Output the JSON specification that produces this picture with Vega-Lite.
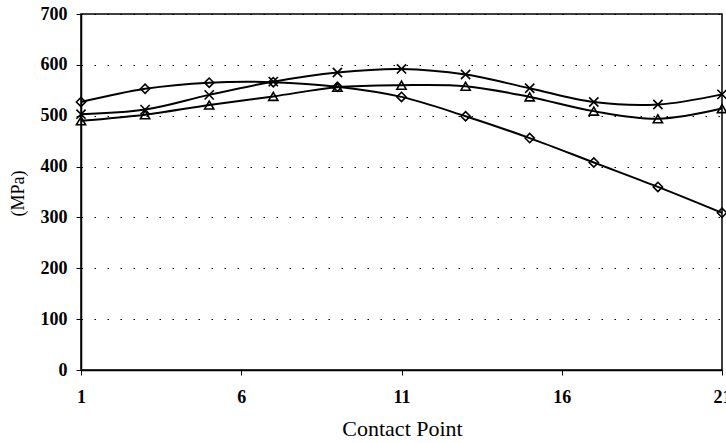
{
  "$schema": "https://vega.github.io/schema/vega-lite/v6.json",
  "autosize": {"type": "none"},
  "width": 641,
  "height": 356,
  "padding": {"left": 81, "top": 14, "right": 4, "bottom": 73},
  "background": "white",
  "config": {
    "view": {"stroke": "black", "strokeWidth": 1.5},
    "font": "Liberation Serif"
  },
  "data": {
    "values": [
      {"point": 1, "stress": 527, "series": "Diamond"},
      {"point": 3, "stress": 553, "series": "Diamond"},
      {"point": 5, "stress": 565, "series": "Diamond"},
      {"point": 7, "stress": 566, "series": "Diamond"},
      {"point": 9, "stress": 557, "series": "Diamond"},
      {"point": 11, "stress": 537, "series": "Diamond"},
      {"point": 13, "stress": 499, "series": "Diamond"},
      {"point": 15, "stress": 456, "series": "Diamond"},
      {"point": 17, "stress": 408, "series": "Diamond"},
      {"point": 19, "stress": 360, "series": "Diamond"},
      {"point": 21, "stress": 309, "series": "Diamond"},
      {"point": 1, "stress": 503, "series": "Cross"},
      {"point": 3, "stress": 512, "series": "Cross"},
      {"point": 5, "stress": 541, "series": "Cross"},
      {"point": 7, "stress": 567, "series": "Cross"},
      {"point": 9, "stress": 585, "series": "Cross"},
      {"point": 11, "stress": 592, "series": "Cross"},
      {"point": 13, "stress": 581, "series": "Cross"},
      {"point": 15, "stress": 554, "series": "Cross"},
      {"point": 17, "stress": 527, "series": "Cross"},
      {"point": 19, "stress": 522, "series": "Cross"},
      {"point": 21, "stress": 542, "series": "Cross"},
      {"point": 1, "stress": 490, "series": "Triangle"},
      {"point": 3, "stress": 502, "series": "Triangle"},
      {"point": 5, "stress": 521, "series": "Triangle"},
      {"point": 7, "stress": 538, "series": "Triangle"},
      {"point": 9, "stress": 556, "series": "Triangle"},
      {"point": 11, "stress": 560, "series": "Triangle"},
      {"point": 13, "stress": 558, "series": "Triangle"},
      {"point": 15, "stress": 537, "series": "Triangle"},
      {"point": 17, "stress": 509, "series": "Triangle"},
      {"point": 19, "stress": 494, "series": "Triangle"},
      {"point": 21, "stress": 514, "series": "Triangle"}
    ]
  },
  "encoding": {
    "x": {
      "field": "point", "type": "quantitative",
      "scale": {"domain": [1, 21], "nice": false, "zero": false},
      "axis": {
        "title": "Contact Point",
        "values": [1, 6, 11, 16, 21],
        "grid": false,
        "domainColor": "black", "domainWidth": 1.5,
        "tickColor": "black", "tickSize": 5,
        "labelFont": "Liberation Serif", "labelFontSize": 18, "labelFontWeight": "bold",
        "labelColor": "black", "labelPadding": 13, "labelFlush": false,
        "titleFont": "Liberation Serif", "titleFontSize": 22, "titleFontWeight": "normal",
        "titleColor": "black",
        "titleX": 321, "titleY": 58, "titleBaseline": "middle", "titleAlign": "center"
      }
    },
    "y": {
      "field": "stress", "type": "quantitative",
      "scale": {"domain": [0, 700], "nice": false},
      "axis": {
        "title": "(MPa)",
        "values": [0, 100, 200, 300, 400, 500, 600, 700],
        "grid": true, "gridColor": "black", "gridDash": [1.5, 11.5], "gridWidth": 1,
        "domainColor": "black", "domainWidth": 1.5,
        "tickColor": "black", "tickSize": 5,
        "labelFont": "Liberation Serif", "labelFontSize": 18, "labelFontWeight": "bold",
        "labelColor": "black", "labelPadding": 9,
        "titleFont": "Liberation Serif", "titleFontSize": 18, "titleFontWeight": "normal",
        "titleColor": "black",
        "titleX": -63, "titleY": 179, "titleBaseline": "middle", "titleAlign": "center"
      }
    }
  },
  "layer": [
    {
      "mark": {"type": "line", "interpolate": "catmull-rom", "color": "black", "strokeWidth": 2},
      "encoding": {"detail": {"field": "series"}}
    },
    {
      "mark": {"type": "point", "filled": false, "stroke": "black", "strokeWidth": 1.6, "opacity": 1, "size": 85},
      "encoding": {
        "shape": {
          "field": "series",
          "scale": {"domain": ["Diamond", "Cross", "Triangle"], "range": ["diamond", "M-1,-1L1,1M-1,1L1,-1", "triangle-up"]},
          "legend": null
        }
      }
    }
  ]
}
